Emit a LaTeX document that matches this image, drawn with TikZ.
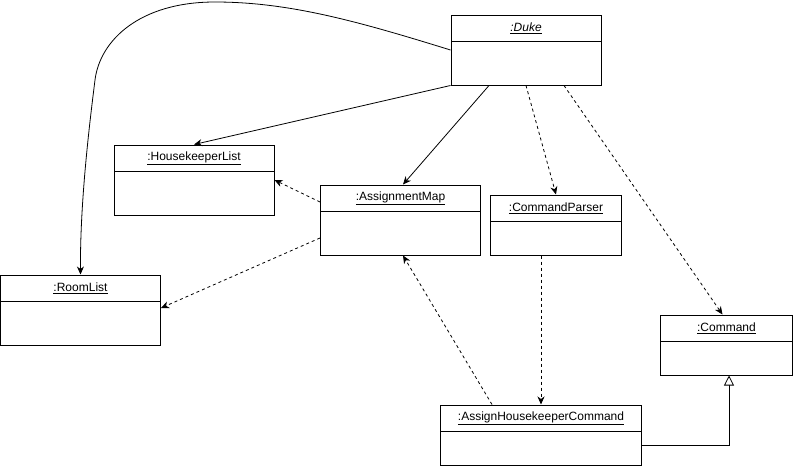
\documentclass[tikz,border=0pt]{standalone}
\usepackage{fontspec}
\setmainfont{Liberation Sans}
\usetikzlibrary{arrows.meta}
\tikzset{
  umlbody/.style={draw, line width=1pt, rectangle, inner sep=0pt},
  umltitle/.style={font=\fontsize{12pt}{14pt}\selectfont, inner sep=0pt},
  conn/.style={line width=0.8pt, -{Stealth[length=8pt,width=7pt,inset=2.5pt]}},
  dconn/.style={conn, dash pattern=on 3pt off 3pt},
  realize/.style={line width=0.8pt, -{Triangle[open,length=10pt,width=10pt,fill=white]}}
}
\newcommand{\umlobj}[7]{%
  \node[umlbody, minimum width={(#4-#2)*1pt}, minimum height={(#5-#3)*1pt}] (#1) at ({(#2+#4)/2},{(#3+#5)/2}) {};
  \draw[line width=1pt] (#2,#6) -- (#4,#6);
  \node[umltitle] at ({(#2+#4)/2},{(#3+#6)/2}) {#7};
}
\begin{document}
\begin{tikzpicture}[x=1pt,y=-1pt]
\useasboundingbox (0,0) rectangle (793,466);
\umlobj{duke}{451}{15}{601}{85}{41.5}{\textit{\underline{:Duke}}}
\umlobj{hk}{114}{145}{274}{215}{171}{\underline{:HousekeeperList}}
\umlobj{am}{320.5}{185}{480.5}{255}{211}{\underline{:AssignmentMap}}
\umlobj{cp}{490.5}{195}{621.5}{255}{221}{\underline{:CommandParser}}
\umlobj{room}{0.5}{275}{160.5}{345}{301}{\underline{:RoomList}}
\umlobj{cmd}{660.5}{315}{792.5}{375}{341}{\underline{:Command}}
\umlobj{ahc}{440.5}{405}{641.5}{465}{431}{\underline{:AssignHousekeeperCommand}}

% curved connector Duke -> RoomList
\draw[conn] (duke.west) .. controls (360,22) and (290,2) .. (215,2)
  .. controls (140,2) and (100,40) .. (95,80)
  .. controls (90,120) and (80,200) .. (room.north);

\draw[conn] (duke.south west) -- (hk.north);
\draw[conn] ([xshift=-37pt]duke.south) -- ([xshift=2.5pt]am.north);
\draw[dconn] (duke.south) -- (cp.north);
\draw[dconn] ([xshift=38pt]duke.south) -- ([xshift=-4pt]cmd.north);
\draw[dconn] ([yshift=18pt]am.west) -- (hk.east);
\draw[dconn] ([yshift=-18pt]am.west) -- ([yshift=2pt]room.east);
\draw[dconn] ([xshift=-49pt]ahc.north) -- ([xshift=2.5pt]am.south);
\draw[dconn] ([xshift=-15pt]cp.south) -- ([xshift=-15pt]cp.south |- ahc.north);
\draw[realize] ([yshift=-10pt]ahc.east) -| ([xshift=2.5pt]cmd.south);
\end{tikzpicture}
\end{document}
